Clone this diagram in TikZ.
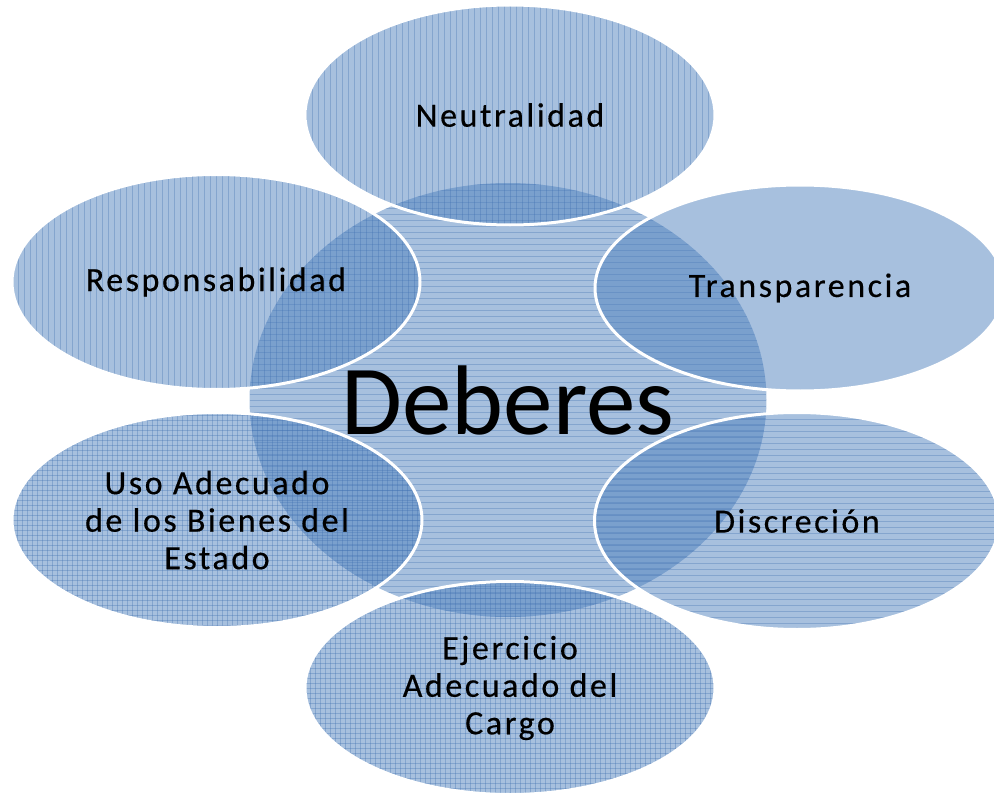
\documentclass[tikz,border=0pt]{standalone}
\usepackage{fontspec}
\setmainfont{Carlito}
\newfontfamily\satfont[LetterSpace=7.5,FakeBold=0.4]{Carlito}
\usetikzlibrary{shapes.geometric}
\definecolor{bub}{HTML}{4F81BD}
\definecolor{patc}{HTML}{3F6FB0}
\begin{document}
\begin{tikzpicture}[x=1pt,y=-1pt,
  pat/.style={draw=patc, line width=0.7pt, draw opacity=0.33},
  bubble/.style={ellipse, fill=bub, fill opacity=0.5, text opacity=1, draw=white,
    line width=3pt, inner sep=0pt, align=center, text=black,
    font=\satfont\fontsize{34}{37.5}\selectfont},
  vlines/.style={path picture={\foreach \i in {-264,-258,...,264}
      \draw[pat] ([xshift=\i pt]path picture bounding box.north) -- ([xshift=\i pt]path picture bounding box.south);}},
  hlines/.style={path picture={\foreach \i in {-222,-216,...,222}
      \draw[pat] ([yshift=\i pt]path picture bounding box.west) -- ([yshift=\i pt]path picture bounding box.east);}},
  grid/.style={path picture={\foreach \i in {-210,-205,...,210}{
      \draw[pat] ([xshift=\i pt]path picture bounding box.north) -- ([xshift=\i pt]path picture bounding box.south);
      \draw[pat] ([yshift=\i pt]path picture bounding box.west) -- ([yshift=\i pt]path picture bounding box.east);}}},
]
\useasboundingbox (0,0) rectangle (994,797);
% central
\node[bubble, draw=none, hlines, minimum width=517pt, minimum height=434pt,
  font=\fontsize{99}{103}\selectfont] (deb) at (508,400) {Deberes};
% satellites
\node[bubble, vlines, minimum width=410pt, minimum height=220pt] (neu) at (510,115) {Neutralidad};
\node[bubble, minimum width=410pt, minimum height=206pt] (tra) at (800,288) {Transparencia};
\node[bubble, vlines, minimum width=408pt, minimum height=215pt] (res) at (216,282) {Responsabilidad};
\node[bubble, grid, minimum width=410pt, minimum height=215pt] (uso) at (217,520) {Uso Adecuado\\de los Bienes del\\Estado};
\node[bubble, hlines, minimum width=405pt, minimum height=217pt] (dis) at (797,521) {Discreción};
\node[bubble, grid, minimum width=410pt, minimum height=213pt] (eje) at (510,688) {Ejercicio\\Adecuado del\\Cargo};
\end{tikzpicture}
\end{document}
